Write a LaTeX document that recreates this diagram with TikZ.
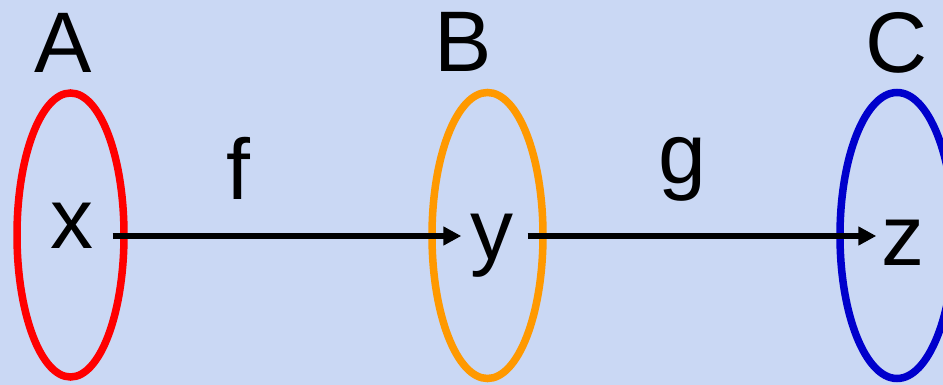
\documentclass[tikz,border=0pt]{standalone}
\usepackage{fontspec}
\setmainfont{Liberation Sans}
\usetikzlibrary{arrows.meta}
\definecolor{bgblue}{RGB}{202,216,244}
\definecolor{setred}{RGB}{255,0,0}
\definecolor{setorange}{RGB}{255,153,0}
\definecolor{setblue}{RGB}{0,0,204}
\begin{document}
\begin{tikzpicture}[x=1pt,y=-1pt,
  lbl/.style={inner sep=0pt,anchor=base,font=\fontsize{86}{90}\selectfont},
  setring/.style={line width=7.5pt},
  maparrow/.style={line width=5.5pt,-{Triangle[length=18pt,width=18pt]}}]
\useasboundingbox (0,0) rectangle (943,385);
\fill[bgblue] (0,0) rectangle (943,385);
% sets
\draw[setring,setred] (70.5,235) ellipse [x radius=53.5,y radius=142];
\draw[setring,setorange] (487.5,235.5) ellipse [x radius=55.5,y radius=143];
\draw[setring,setblue] (897,235.5) ellipse [x radius=57,y radius=143];
% set labels
\node[lbl] (A) at (63,73) {A};
\node[lbl] (B) at (463,72) {B};
\node[lbl] (C) at (897,73) {C};
% elements
\node[lbl] (x) at (72,248) {x};
\node[lbl] (y) at (492,259) {y};
\node[lbl] (z) at (903,265) {z};
% map labels
\node[lbl] (f) at (238,200) {f};
\node[lbl] (g) at (682,183) {g};
% arrows
\coordinate (x1) at ([xshift=19pt]x.east |- 0,236);
\coordinate (y0) at ([xshift=-9pt]y.west |- 0,236);
\coordinate (y1) at ([xshift=14pt]y.east |- 0,236);
\coordinate (z0) at ([xshift=-5pt]z.west |- 0,236);
\draw[maparrow] (x1) -- (y0);
\draw[maparrow] (y1) -- (z0);
\end{tikzpicture}
\end{document}
